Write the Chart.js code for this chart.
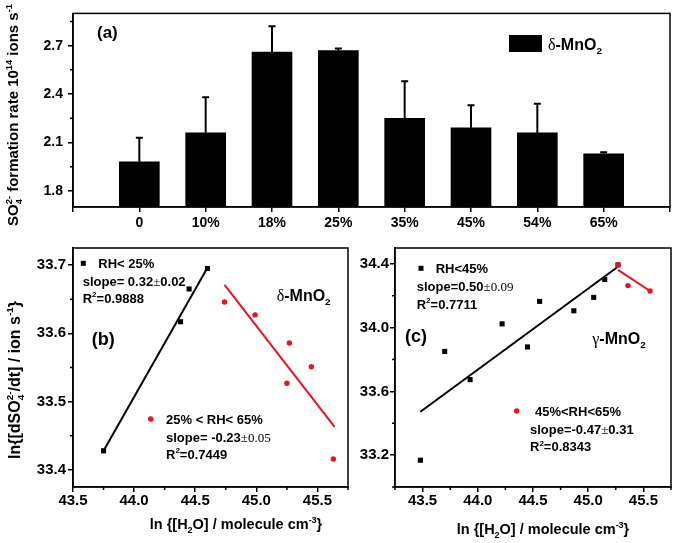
<!DOCTYPE html>
<html>
<head>
<meta charset="utf-8">
<script src="https://cdn.jsdelivr.net/npm/chart.js@4.4.1/dist/chart.umd.min.js"></script>
<style>
  body { margin: 0; background: #fff; }
  #wrap { position: relative; width: 675px; height: 543px; background: #fff; }
  canvas { position: absolute; }
</style>
</head>
<body>
<div id="wrap">
  <canvas id="chartA" width="675" height="232" style="left:0;top:0"></canvas>
  <canvas id="chartB" width="355" height="311" style="left:0;top:232px"></canvas>
  <canvas id="chartC" width="320" height="311" style="left:355px;top:232px"></canvas>
</div>
<script>
// (a) formation rate vs RH, delta-MnO2
const rhLabels = ['0', '10%', '18%', '25%', '35%', '45%', '54%', '65%'];
const rateValues = [1.98, 2.16, 2.66, 2.67, 2.25, 2.19, 2.16, 2.03];
const rateErrors = [0.15, 0.22, 0.16, 0.012, 0.23, 0.14, 0.18, 0.01];
const rateTicks = [1.8, 2.1, 2.4, 2.7];

// (b) delta-MnO2
const dLowX = [43.75, 44.38, 44.45, 44.60];
const dLowY = [33.428, 33.617, 33.665, 33.695];
const dHighX = [44.74, 44.99, 45.27, 45.25, 45.45, 45.63];
const dHighY = [33.646, 33.627, 33.586, 33.527, 33.551, 33.416];
const dLowFitX = [43.75, 44.60];
const dLowFitY = [33.428, 33.696];
const dHighFitX = [44.74, 45.64];
const dHighFitY = [33.671, 33.463];
const dTicksX = [43.5, 44.0, 44.5, 45.0, 45.5];
const dTicksY = [33.4, 33.5, 33.6, 33.7];

// (c) gamma-MnO2
const gLowX = [43.48, 43.70, 43.93, 44.22, 44.45, 44.56, 44.87, 45.05, 45.15, 45.27];
const gLowY = [33.168, 33.851, 33.674, 34.024, 33.879, 34.165, 34.106, 34.190, 34.302, 34.394];
const gHighX = [45.27, 45.36, 45.56];
const gHighY = [34.394, 34.264, 34.230];
const gLowFitX = [43.48, 45.26];
const gLowFitY = [33.472, 34.378];
const gHighFitX = [45.27, 45.56];
const gHighFitY = [34.363, 34.230];
const gTicksX = [43.5, 44.0, 44.5, 45.0, 45.5];
const gTicksY = [33.2, 33.6, 34.0, 34.4];

const SANS = '"Liberation Sans", Arial, sans-serif';
const SERIF = '"Liberation Serif", "Times New Roman", serif';
const RED = '#e8141c';

const pts = (xs, ys) => xs.map((x, i) => ({x: x, y: ys[i]}));

// text with sub/superscripts; y is the middle of the capitals
function rich(ctx, parts, x, y, size, o = {}) {
  ctx.save();
  ctx.translate(x, y);
  if (o.rot) ctx.rotate(o.rot);
  ctx.fillStyle = o.color || '#000';
  ctx.textBaseline = 'alphabetic';
  ctx.textAlign = 'left';
  const small = size * 0.62;
  const items = parts.map(([t, f, pos]) => {
    const fam = f === 's' ? SERIF : SANS;
    const wt = f === 'b' ? 'bold ' : '';
    ctx.font = wt + (pos ? small : size) + 'px ' + fam;
    const fnt = ctx.font;
    if (pos === 'ss') {
      const [a, b] = t.split('|');
      return {a, b, fnt, pos, w: Math.max(ctx.measureText(a).width, ctx.measureText(b).width)};
    }
    return {t, fnt, pos, w: ctx.measureText(t).width};
  });
  const total = items.reduce((s, it) => s + it.w, 0);
  let cx = o.center ? -total / 2 : 0;
  const base = size * 0.36;
  items.forEach(it => {
    ctx.font = it.fnt;
    const sub = base + size * 0.25, sup = base - size * 0.45;
    if (it.pos === 'ss') {
      ctx.fillText(it.a, cx, sub);
      ctx.fillText(it.b, cx, sup);
    } else {
      ctx.fillText(it.t, cx, it.pos === 'sub' ? sub : it.pos === 'sup' ? sup : base);
    }
    cx += it.w;
  });
  ctx.restore();
}

function minors(majors, min, max) {
  const step = majors[1] - majors[0], out = [];
  for (let v = majors[0] - step / 2; v <= max + 1e-9; v += step) {
    if (v >= min - 1e-9) out.push(v);
  }
  return out;
}

function frame(chart, mx, my) {
  const ctx = chart.ctx, a = chart.chartArea;
  ctx.save();
  ctx.strokeStyle = '#000';
  ctx.lineWidth = 1.5;
  ctx.strokeRect(a.left, a.top, a.right - a.left, a.bottom - a.top);
  ctx.beginPath();
  if (mx) mx.forEach(v => {
    const px = chart.scales.x.getPixelForValue(v);
    ctx.moveTo(px, a.bottom); ctx.lineTo(px, a.bottom + 3);
  });
  if (my) my.forEach(v => {
    const py = chart.scales.y.getPixelForValue(v);
    ctx.moveTo(a.left, py); ctx.lineTo(a.left - 3, py);
  });
  ctx.stroke();
  ctx.restore();
}

function axis(o) {
  const ax = {
    type: o.type || 'linear',
    offset: false,
    border: {color: '#000', width: 1.5},
    grid: {drawOnChartArea: false, color: '#000', lineWidth: 1.5, tickLength: 5, offset: false},
    ticks: {color: '#000', font: {family: SANS, size: o.size, weight: 'bold'}, padding: o.pad,
            autoSkip: false, maxRotation: 0},
    afterFit: s => { if (s.isHorizontal()) s.height = o.fit; else s.width = o.fit; }
  };
  if (o.min !== undefined) { ax.min = o.min; ax.max = o.max; }
  if (o.ticks) {
    ax.afterBuildTicks = s => { s.ticks = o.ticks.map(v => ({value: v})); };
    ax.ticks.callback = v => v.toFixed(1);
  }
  return ax;
}

const common = {
  responsive: false,
  animation: false,
  events: [],
  plugins: {legend: {display: false}, tooltip: {enabled: false}}
};

// ---- (a)
const padErr = [null, ...rateErrors, null];
const padVal = [null, ...rateValues, null];

new Chart(document.getElementById('chartA'), {
  type: 'bar',
  data: {
    labels: ['', ...rhLabels, ''],
    datasets: [{label: 'δ-MnO₂', data: padVal, backgroundColor: '#000', borderWidth: 0, barThickness: 40}]
  },
  options: {
    ...common,
    layout: {padding: {top: 7, right: 5, left: 0, bottom: 0}, autoPadding: false},
    scales: {
      x: axis({type: 'category', size: 14, pad: 3, fit: 25}),
      y: axis({min: 1.7, max: 2.9, ticks: rateTicks, size: 14, pad: 5, fit: 73})
    }
  },
  plugins: [{
    id: 'extrasA',
    afterDraw(chart) {
      const ctx = chart.ctx, ys = chart.scales.y;
      frame(chart, null, minors(rateTicks, 1.7, 2.9));
      ctx.save();
      ctx.strokeStyle = '#000';
      ctx.lineWidth = 2;
      chart.getDatasetMeta(0).data.forEach((bar, i) => {
        if (padErr[i] == null) return;
        const top = ys.getPixelForValue(padVal[i] + padErr[i]);
        ctx.beginPath();
        ctx.moveTo(bar.x, bar.y); ctx.lineTo(bar.x, top);
        ctx.moveTo(bar.x - 3.5, top); ctx.lineTo(bar.x + 3.5, top);
        ctx.stroke();
      });
      ctx.fillStyle = '#000';
      ctx.fillRect(509, 35, 33, 17);
      ctx.restore();
      rich(ctx, [['δ', 's'], ['-MnO', 'b'], ['2', 'b', 'sub']], 548, 44, 16);
      rich(ctx, [['(a)', 'b']], 97, 32, 17);
      rich(ctx, [['SO', 'b'], ['4|2-', 'b', 'ss'], [' formation rate 10', 'b'], ['14', 'b', 'sup'],
                 [' ions s', 'b'], ['-1', 'b', 'sup']], 13, 115, 15, {rot: -Math.PI / 2, center: true});
    }
  }]
});

// ---- (b)
new Chart(document.getElementById('chartB'), {
  type: 'scatter',
  data: {
    datasets: [
      {data: pts(dLowX, dLowY), pointStyle: 'rect', pointRadius: 3.6, backgroundColor: '#000', borderWidth: 0},
      {data: pts(dHighX, dHighY), pointStyle: 'circle', pointRadius: 2.7, backgroundColor: RED, borderWidth: 0},
      {data: pts(dLowFitX, dLowFitY), showLine: true, pointRadius: 0, borderColor: '#000', borderWidth: 2},
      {data: pts(dHighFitX, dHighFitY), showLine: true, pointRadius: 0, borderColor: RED, borderWidth: 2}
    ]
  },
  options: {
    ...common,
    layout: {padding: {top: 16, right: 7, left: 0, bottom: 0}, autoPadding: false},
    scales: {
      x: axis({min: 43.5, max: 45.75, ticks: dTicksX, size: 15, pad: 0, fit: 56}),
      y: axis({min: 33.375, max: 33.725, ticks: dTicksY, size: 15, pad: 2, fit: 73})
    }
  },
  plugins: [{
    id: 'extrasB',
    afterDraw(chart) {
      const ctx = chart.ctx;
      frame(chart, minors(dTicksX, 43.5, 45.75), minors(dTicksY, 33.375, 33.725));
      ctx.save();
      ctx.fillStyle = '#000';
      ctx.fillRect(80.8, 28.8, 5, 5);
      ctx.fillStyle = RED;
      ctx.beginPath(); ctx.arc(150.7, 187, 2.7, 0, Math.PI * 2); ctx.fill();
      ctx.restore();
      rich(ctx, [['RH< 25%', 'b']], 98.3, 31.3, 13);
      rich(ctx, [['slope= 0.32', 'b'], ['±', 's'], ['0.02', 'b']], 82.7, 49.5, 13);
      rich(ctx, [['R', 'b'], ['2', 'b', 'sup'], ['=0.9888', 'b']], 82.7, 66.5, 13);
      rich(ctx, [['(b)', 'b']], 91.7, 107, 18);
      rich(ctx, [['δ', 's'], ['-MnO', 'b'], ['2', 'b', 'sub']], 276.7, 63, 16);
      rich(ctx, [['25% < RH< 65%', 'b']], 166, 187, 13);
      rich(ctx, [['slope= -0.23', 'b'], ['±0.05', 's']], 166, 205.3, 13);
      rich(ctx, [['R', 'b'], ['2', 'b', 'sup'], ['=0.7449', 'b']], 166, 222.5, 13);
      rich(ctx, [['ln{[dSO', 'b'], ['4|2-', 'b', 'ss'], ['/dt] / ion s', 'b'], ['-1', 'b', 'sup'], ['}', 'b']],
           14, 148, 16, {rot: -Math.PI / 2, center: true});
      rich(ctx, [['ln {[H', 'b'], ['2', 'b', 'sub'], ['O] / molecule cm', 'b'], ['-3', 'b', 'sup'], ['}', 'b']],
           236, 292, 14.5, {center: true});
    }
  }]
});

// ---- (c)
new Chart(document.getElementById('chartC'), {
  type: 'scatter',
  data: {
    datasets: [
      {data: pts(gHighX, gHighY), pointStyle: 'circle', pointRadius: 2.7, backgroundColor: RED, borderWidth: 0},
      {data: pts(gLowX, gLowY), pointStyle: 'rect', pointRadius: 3.6, backgroundColor: '#000', borderWidth: 0},
      {data: pts(gLowFitX, gLowFitY), showLine: true, pointRadius: 0, borderColor: '#000', borderWidth: 2},
      {data: pts(gHighFitX, gHighFitY), showLine: true, pointRadius: 0, borderColor: RED, borderWidth: 2}
    ]
  },
  options: {
    ...common,
    layout: {padding: {top: 16, right: 4, left: 0, bottom: 0}, autoPadding: false},
    scales: {
      x: axis({min: 43.25, max: 45.75, ticks: gTicksX, size: 15, pad: 0, fit: 56}),
      y: axis({min: 33.0, max: 34.5, ticks: gTicksY, size: 15, pad: 1, fit: 40})
    }
  },
  plugins: [{
    id: 'extrasC',
    afterDraw(chart) {
      const ctx = chart.ctx;
      frame(chart, minors(gTicksX, 43.25, 45.75), minors(gTicksY, 33.0, 34.5));
      ctx.save();
      ctx.fillStyle = '#000';
      ctx.fillRect(63.5, 33.8, 5, 5);
      ctx.fillStyle = RED;
      ctx.beginPath(); ctx.arc(161.7, 179, 2.7, 0, Math.PI * 2); ctx.fill();
      ctx.restore();
      rich(ctx, [['RH<45%', 'b']], 80.7, 36.3, 13);
      rich(ctx, [['slope=0.50', 'b'], ['±0.09', 's']], 61.7, 54.7, 13);
      rich(ctx, [['R', 'b'], ['2', 'b', 'sup'], ['=0.7711', 'b']], 61.7, 72, 13);
      rich(ctx, [['(c)', 'b']], 50, 104, 18);
      rich(ctx, [['γ', 's'], ['-MnO', 'b'], ['2', 'b', 'sub']], 237.3, 106.3, 16);
      rich(ctx, [['45%<RH<65%', 'b']], 180, 179, 13);
      rich(ctx, [['slope=-0.47', 'b'], ['±', 's'], ['0.31', 'b']], 175, 197.3, 13);
      rich(ctx, [['R', 'b'], ['2', 'b', 'sup'], ['=0.8343', 'b']], 175, 214.7, 13);
      rich(ctx, [['ln {[H', 'b'], ['2', 'b', 'sub'], ['O] / molecule cm', 'b'], ['-3', 'b', 'sup'], ['}', 'b']],
           188, 297, 14.5, {center: true});
    }
  }]
});
</script>
</body>
</html>
